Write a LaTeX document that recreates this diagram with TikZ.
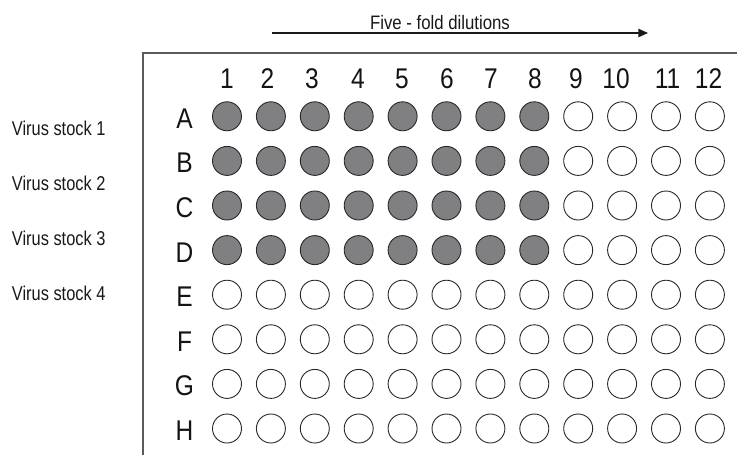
\documentclass[tikz,border=0pt]{standalone}
\usepackage{fontspec}
\setmainfont[FakeStretch=0.86]{Liberation Sans}
\newfontfamily\narrowfont[FakeStretch=0.82]{Liberation Sans}
\usetikzlibrary{arrows.meta}
\definecolor{wellgray}{RGB}{128,128,131}
\definecolor{rimgray}{RGB}{40,40,40}
\definecolor{framegray}{RGB}{90,90,90}
\tikzstyle{well}=[circle,draw=rimgray,line width=0.9pt,minimum size=29pt,inner sep=0pt]
\tikzstyle{fullwell}=[well,fill=wellgray]
\tikzstyle{emptywell}=[well,fill=white]
\tikzstyle{platelabel}=[font=\fontsize{28.5}{28.5}\selectfont,inner sep=0pt,anchor=base,text=black!92]
\tikzstyle{stocklabel}=[font=\narrowfont\fontsize{20}{20}\selectfont,inner sep=0pt,anchor=base west,text=black!90]
\tikzstyle{arrow}=[-{Triangle[length=10pt,width=8pt]},line width=2.4pt,draw=black!90]

\begin{document}
\begin{tikzpicture}[x=1pt,y=-1pt]
      \useasboundingbox (0,0) rectangle (737,455);
      % plate frame
      \coordinate (corner) at (143.3,53.3);
      \draw[framegray,line width=2pt] (737,53.3) -- (corner) -- (143.3,455);

      % dilution arrow
      \node[font=\fontsize{19.5}{19.5}\selectfont,inner sep=0pt,anchor=base,text=black!90] (title) at (440,29.3) {Five - fold dilutions};
      \coordinate (dstart) at (271.7,33);
      \coordinate (dend) at (648.3,33);
      \draw[arrow] (dstart)--(dend);

      % column numbers
      \foreach \c/\x in {1/227,2/267.5,3/312,4/358,5/402,6/447,7/491,8/535,9/576,10/616,11/667.5,12/708.5}
        \node[platelabel] (col-\c) at (\x,88.3) {\c};

      % rows of wells
      \foreach \r [count=\i from 0] in {A,B,C,D,E,F,G,H} {
        \pgfmathsetmacro\y{116.3+44.6*\i}
        \node[platelabel] (row-\r) at (184.5,\y+12) {\r};
        \foreach \c in {1,...,12} {
          \pgfmathtruncatemacro\full{and(\i<4,\c<9)}
          \ifnum\full=1 \def\wstyle{fullwell}\else \def\wstyle{emptywell}\fi
          \node[\wstyle] (w-\r\c) at (227+43.9*\c-43.9,\y) {};
        }
      }

      % stock labels
      \foreach \s in {1,...,4}
        \node[stocklabel] (stock-\s) at (11.7,135+55*\s-55) {Virus stock \s};
    \end{tikzpicture}
\end{document}
